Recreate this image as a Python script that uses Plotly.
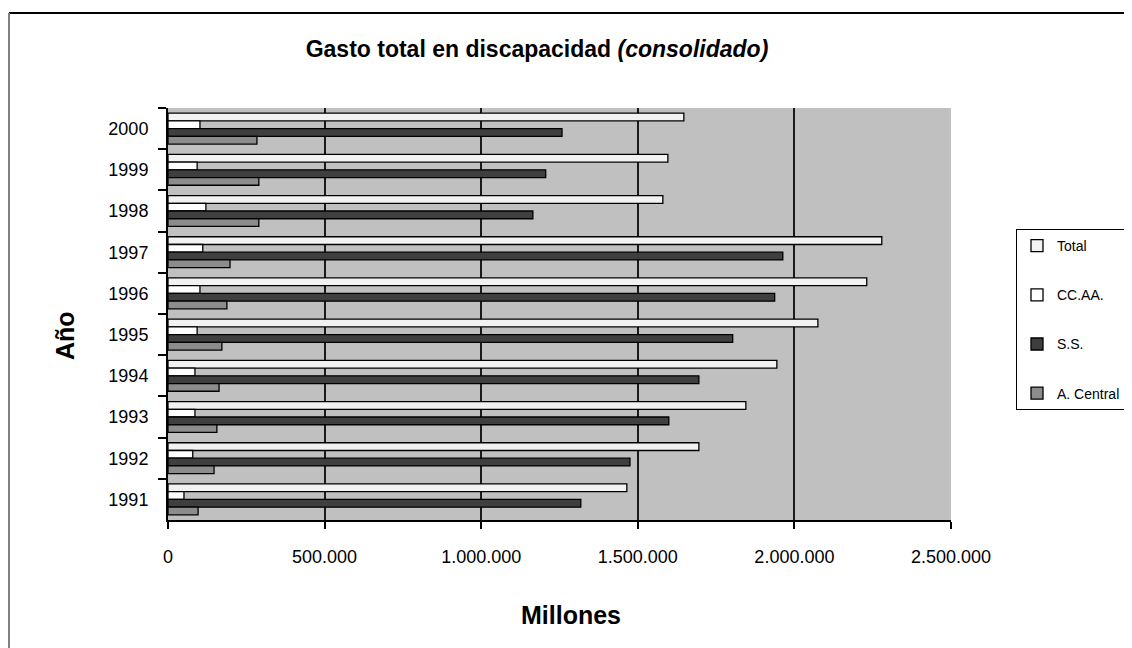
import plotly.graph_objects as go

years = ["1991", "1992", "1993", "1994", "1995", "1996", "1997", "1998", "1999", "2000"]
total = [1465000, 1695000, 1845000, 1944000, 2075000, 2231000, 2279000, 1580000, 1596000, 1647000]
ccaa = [51000, 79000, 86000, 86000, 93000, 102000, 111000, 121000, 93000, 102000]
ss = [1318000, 1475000, 1599000, 1695000, 1803000, 1937000, 1963000, 1165000, 1206000, 1258000]
acentral = [96000, 147000, 156000, 163000, 172000, 188000, 198000, 290000, 290000, 284000]

x_tickvals = [0, 500000, 1000000, 1500000, 2000000, 2500000]
x_ticktext = ["0", "500.000", "1.000.000", "1.500.000", "2.000.000", "2.500.000"]

FONT = "Liberation Sans, Arial, sans-serif"

# the page body adds an 8px margin; positions below are in page pixels
OFF = 8
W, H = 1132 - OFF, 648 - OFF
L, R, T, B = 168 - OFF, 951 - OFF, 108 - OFF, 520 - OFF
PW, PH = R - L, B - T


def px_x(p):
    return (p - OFF - L) / PW


def px_y(p):
    return (B - (p - OFF)) / PH


fig = go.Figure()
series = [
    ("Total", total, "#f2f2f2"),
    ("CC.AA.", ccaa, "#ffffff"),
    ("S.S.", ss, "#3f3f3f"),
    ("A. Central", acentral, "#8c8c8c"),
]
for name, vals, col in series:
    fig.add_trace(go.Bar(
        y=years, x=vals, name=name, orientation="h",
        marker=dict(color=col, line=dict(color="#000000", width=1.3)),
        legendgroup=name,
    ))

fig.update_layout(
    width=W, height=H,
    margin=dict(l=L, r=W - R, t=T, b=H - B, autoexpand=False),
    paper_bgcolor="white",
    plot_bgcolor="#c0c0c0",
    barmode="group",
    bargap=0.25,
    bargroupgap=0,
    font=dict(family=FONT, color="#000000"),
    title=dict(
        text="<b>Gasto total en discapacidad <i>(consolidado)</i></b>",
        font=dict(family=FONT, size=23, color="#000000"),
        x=(537 - OFF) / W, xanchor="center", xref="container",
        y=1 - (49 - OFF) / H, yanchor="middle", yref="container",
    ),
    xaxis=dict(
        range=[0, 2500000],
        tickvals=x_tickvals, ticktext=x_ticktext,
        showgrid=True, gridcolor="#1a1a1a", gridwidth=2,
        zeroline=False,
        showline=True, linecolor="#000000", linewidth=2,
        ticks="outside", ticklen=7, tickwidth=2, tickcolor="#000000",
        tickfont=dict(family=FONT, size=18, color="#000000"),
        ticklabelstandoff=12,
    ),
    yaxis=dict(
        type="category",
        categoryorder="category descending",
        autorange="reversed",
        showgrid=False, zeroline=False,
        showline=True, linecolor="#000000", linewidth=2,
        ticks="outside", tickson="boundaries", ticklen=8, tickwidth=2, tickcolor="#000000",
        tickfont=dict(family=FONT, size=18, color="#000000"),
        ticklabelstandoff=14,
    ),
    legend=dict(
        x=px_x(1016), y=px_y(229), xanchor="left", yanchor="top",
        xref="paper", yref="paper",
        traceorder="grouped",
        tracegroupgap=28,
        bordercolor="#000000", borderwidth=1,
        bgcolor="white",
        font=dict(family=FONT, size=14, color="#000000"),
    ),
    showlegend=True,
)

# axis titles
fig.add_annotation(text="<b>Millones</b>", x=px_x(571), y=px_y(615), xref="paper", yref="paper",
                   showarrow=False, font=dict(family=FONT, size=25, color="#000000"),
                   xanchor="center", yanchor="middle")
fig.add_annotation(text="<b>Año</b>", x=px_x(65), y=px_y(336), xref="paper", yref="paper",
                   showarrow=False, textangle=-90, font=dict(family=FONT, size=25, color="#000000"),
                   xanchor="center", yanchor="middle")

# outer frame (top and left edges visible in the picture)
fig.add_shape(type="line", xref="paper", yref="paper",
              x0=px_x(9), x1=px_x(1140), y0=px_y(13), y1=px_y(13),
              line=dict(color="#000000", width=2))
fig.add_shape(type="line", xref="paper", yref="paper",
              x0=px_x(9), x1=px_x(9), y0=px_y(13), y1=px_y(660),
              line=dict(color="#808080", width=2))

fig.write_html("out.html")
